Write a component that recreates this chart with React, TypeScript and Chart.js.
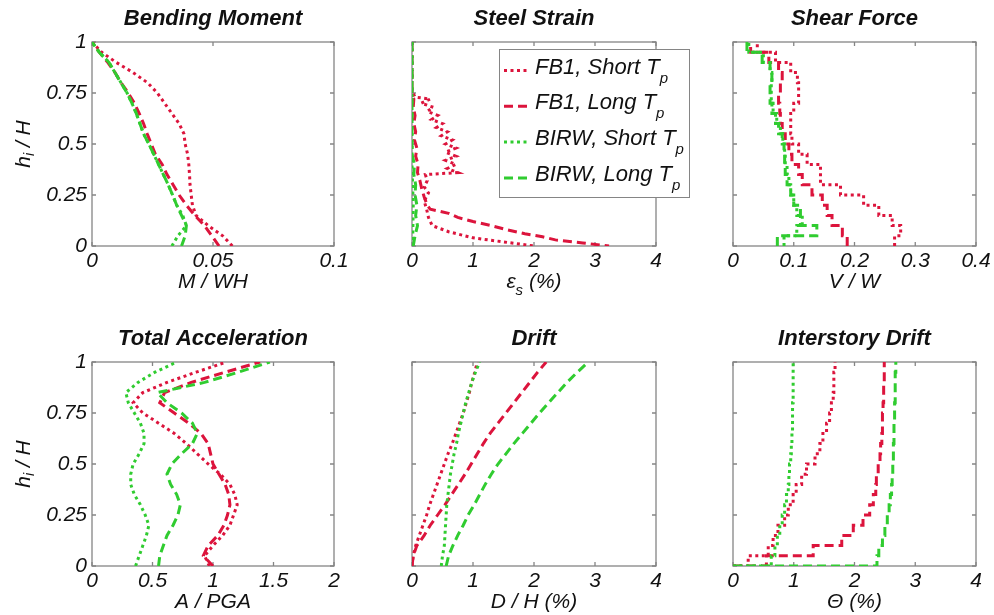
import React, { useEffect, useRef } from 'react';
import { Chart, registerables } from 'chart.js';

Chart.register(...registerables);

const FONT = "'Liberation Sans', Arial, sans-serif";
const RED = '#dc143c';
const GREEN = '#30cc30';
const FRAME = '#858585';
const INK = '#111111';

// Normalised heights h_i / H of the profile stations (ground to roof)
const HEIGHTS = [0, 0.05, 0.1, 0.15, 0.2, 0.25, 0.3, 0.35, 0.4, 0.45, 0.5, 0.55, 0.6, 0.65, 0.7, 0.75, 0.8, 0.85, 0.9, 0.95, 1.0];
// Top of each of the 20 storeys (storey 1 first)
const STOREY_TOPS = [0.05, 0.1, 0.15, 0.2, 0.25, 0.3, 0.35, 0.4, 0.45, 0.5, 0.55, 0.6, 0.65, 0.7, 0.75, 0.8, 0.85, 0.9, 0.95, 1.0];

// Bending moment M / WH at HEIGHTS
const MOMENT_FB1_SHORT = [0.058, 0.054, 0.048, 0.043, 0.0415, 0.041, 0.0405, 0.0403, 0.04, 0.0395, 0.0385, 0.038, 0.036, 0.033, 0.03, 0.027, 0.023, 0.017, 0.01, 0.004, 0];
const MOMENT_FB1_LONG = [0.0525, 0.0495, 0.0465, 0.0425, 0.039, 0.036, 0.0335, 0.031, 0.029, 0.0262, 0.0245, 0.0228, 0.0213, 0.0195, 0.0175, 0.015, 0.012, 0.0095, 0.0065, 0.003, 0];
const MOMENT_BIRW_SHORT = [0.033, 0.0355, 0.039, 0.0375, 0.035, 0.0333, 0.0315, 0.0295, 0.0275, 0.0255, 0.0235, 0.0213, 0.0198, 0.0183, 0.0165, 0.0145, 0.012, 0.0095, 0.007, 0.003, 0];
const MOMENT_BIRW_LONG = [0.037, 0.0385, 0.039, 0.037, 0.035, 0.0333, 0.0315, 0.0295, 0.0275, 0.0255, 0.0235, 0.0213, 0.0198, 0.0183, 0.0165, 0.0145, 0.012, 0.0095, 0.007, 0.003, 0];

// Steel strain (%) profiles, listed roof to ground
const STRAIN_FB1_SHORT_H = [1.0, 0.76, 0.73, 0.72, 0.7, 0.68, 0.66, 0.64, 0.62, 0.6, 0.58, 0.56, 0.54, 0.52, 0.5, 0.48, 0.46, 0.44, 0.42, 0.4, 0.38, 0.36, 0.35, 0.32, 0.29, 0.26, 0.22, 0.18, 0.14, 0.1, 0.07, 0.04, 0.02, 0.0];
const STRAIN_FB1_SHORT = [0, 0, 0.05, 0.3, 0.15, 0.35, 0.25, 0.42, 0.32, 0.5, 0.4, 0.58, 0.48, 0.66, 0.55, 0.72, 0.55, 0.72, 0.55, 0.72, 0.58, 0.75, 0.22, 0.25, 0.2, 0.27, 0.2, 0.24, 0.27, 0.33, 0.6, 1.0, 1.5, 2.0];
const STRAIN_FB1_LONG_H = [1.0, 0.76, 0.72, 0.68, 0.64, 0.6, 0.56, 0.52, 0.48, 0.44, 0.4, 0.36, 0.32, 0.28, 0.24, 0.2, 0.18, 0.16, 0.14, 0.12, 0.1, 0.08, 0.06, 0.045, 0.03, 0.015, 0.0];
const STRAIN_FB1_LONG = [0, 0, 0.03, 0.02, 0.05, 0.03, 0.06, 0.04, 0.08, 0.06, 0.1, 0.09, 0.13, 0.16, 0.2, 0.25, 0.3, 0.6, 0.75, 1.0, 1.3, 1.55, 1.85, 2.14, 2.35, 2.8, 3.23];
const STRAIN_BIRW_SHORT_H = [1.0, 0.4, 0.3, 0.2, 0.1, 0.0];
const STRAIN_BIRW_SHORT = [0, 0, 0.01, 0.02, 0.015, 0.01];
const STRAIN_BIRW_LONG_H = [1.0, 0.45, 0.4, 0.35, 0.3, 0.25, 0.2, 0.15, 0.1, 0.05, 0.0];
const STRAIN_BIRW_LONG = [0, 0, 0.04, 0.03, 0.06, 0.05, 0.08, 0.06, 0.09, 0.05, 0.02];

// Storey shear V / W, storey 1 first
const SHEAR_FB1_SHORT = [0.266, 0.276, 0.262, 0.24, 0.215, 0.177, 0.144, 0.144, 0.122, 0.108, 0.097, 0.095, 0.095, 0.1, 0.108, 0.108, 0.106, 0.095, 0.07, 0.04];
const SHEAR_FB1_LONG = [0.188, 0.18, 0.163, 0.155, 0.147, 0.13, 0.114, 0.108, 0.097, 0.092, 0.086, 0.081, 0.078, 0.077, 0.075, 0.078, 0.081, 0.075, 0.059, 0.029];
const SHEAR_BIRW_SHORT = [0.084, 0.105, 0.114, 0.105, 0.1, 0.095, 0.092, 0.089, 0.086, 0.085, 0.082, 0.078, 0.072, 0.066, 0.063, 0.063, 0.064, 0.061, 0.05, 0.026];
const SHEAR_BIRW_LONG = [0.073, 0.138, 0.111, 0.111, 0.1, 0.095, 0.089, 0.086, 0.085, 0.084, 0.081, 0.075, 0.07, 0.064, 0.061, 0.061, 0.064, 0.061, 0.048, 0.023];

// Total acceleration A / PGA at HEIGHTS
const ACCEL_FB1_SHORT = [0.97, 0.93, 1.0, 1.08, 1.14, 1.17, 1.2, 1.18, 1.14, 1.06, 0.96, 0.87, 0.78, 0.68, 0.55, 0.42, 0.34, 0.42, 0.62, 0.86, 1.11];
const ACCEL_FB1_LONG = [1.0, 0.92, 0.96, 1.04, 1.09, 1.12, 1.14, 1.13, 1.1, 1.05, 1.0, 0.98, 0.96, 0.9, 0.8, 0.68, 0.56, 0.6, 0.82, 1.1, 1.39];
const ACCEL_BIRW_SHORT = [0.36, 0.39, 0.42, 0.45, 0.47, 0.44, 0.4, 0.35, 0.32, 0.32, 0.34, 0.39, 0.43, 0.43, 0.4, 0.35, 0.3, 0.28, 0.38, 0.52, 0.7];
const ACCEL_BIRW_LONG = [0.55, 0.56, 0.59, 0.62, 0.67, 0.71, 0.73, 0.7, 0.65, 0.62, 0.66, 0.74, 0.83, 0.87, 0.83, 0.74, 0.62, 0.54, 0.93, 1.21, 1.47];

// Roof-normalised drift D / H (%) at HEIGHTS
const DRIFT_FB1_SHORT = [0, 0.02, 0.06, 0.12, 0.18, 0.24, 0.29, 0.35, 0.41, 0.47, 0.53, 0.59, 0.66, 0.72, 0.78, 0.84, 0.89, 0.94, 0.98, 1.03, 1.07];
const DRIFT_FB1_LONG = [0, 0.02, 0.08, 0.2, 0.3, 0.42, 0.54, 0.65, 0.76, 0.87, 0.97, 1.07, 1.17, 1.28, 1.41, 1.54, 1.67, 1.8, 1.93, 2.06, 2.2];
const DRIFT_BIRW_SHORT = [0.48, 0.5, 0.53, 0.54, 0.55, 0.56, 0.57, 0.59, 0.61, 0.63, 0.66, 0.69, 0.73, 0.76, 0.8, 0.84, 0.88, 0.93, 0.98, 1.04, 1.11];
const DRIFT_BIRW_LONG = [0.56, 0.6, 0.67, 0.75, 0.84, 0.92, 1.02, 1.11, 1.2, 1.3, 1.41, 1.54, 1.67, 1.81, 1.95, 2.09, 2.24, 2.39, 2.54, 2.71, 2.89];

// Interstory drift ratio (%), storey 1 first
const IDR_FB1_SHORT = [0.25, 0.58, 0.66, 0.74, 0.85, 0.91, 0.99, 1.04, 1.13, 1.21, 1.35, 1.43, 1.48, 1.54, 1.59, 1.62, 1.65, 1.66, 1.66, 1.68];
const IDR_FB1_LONG = [0.55, 1.32, 1.79, 1.98, 2.14, 2.25, 2.31, 2.35, 2.36, 2.39, 2.42, 2.43, 2.45, 2.46, 2.46, 2.47, 2.48, 2.48, 2.49, 2.49];
const IDR_BIRW_SHORT = [0.63, 0.69, 0.73, 0.77, 0.81, 0.85, 0.88, 0.91, 0.92, 0.93, 0.95, 0.96, 0.97, 0.98, 0.98, 0.98, 0.99, 0.99, 0.99, 0.99];
const IDR_BIRW_LONG = [2.37, 2.4, 2.46, 2.5, 2.54, 2.57, 2.59, 2.61, 2.62, 2.63, 2.64, 2.64, 2.65, 2.65, 2.66, 2.66, 2.67, 2.67, 2.67, 2.68];

const LEGEND_LABELS = ['FB1, Short T', 'FB1, Long T', 'BIRW, Short T', 'BIRW, Long T'];
const LEGEND_SUB = 'p';

type Pt = { x: number; y: number };
type Seg = { t: string; sub?: boolean };

const DOT = [3, 3.5];
const DASH = [9, 5];
const SERIES = [
  { color: RED, dash: DOT, order: 3 },
  { color: RED, dash: DASH, order: 2 },
  { color: GREEN, dash: DOT, order: 1 },
  { color: GREEN, dash: DASH, order: 0 },
];

const pair = (xs: number[], ys: number[]): Pt[] => xs.map((x, i) => ({ x, y: ys[i] }));
const stairs = (vals: number[], fromGround: boolean): Pt[] => [
  { x: fromGround ? 0 : vals[0], y: 0 },
  ...vals.map((x, i) => ({ x, y: STOREY_TOPS[i] })),
];

function makeSets(pts: Pt[][], stepped = false) {
  return SERIES.map((s, i) => ({
    label: LEGEND_LABELS[i],
    data: pts[i],
    borderColor: s.color,
    backgroundColor: s.color,
    borderDash: s.dash,
    borderWidth: 3,
    borderCapStyle: 'butt',
    borderJoinStyle: 'miter',
    showLine: true,
    pointRadius: 0,
    pointHoverRadius: 0,
    fill: false,
    tension: 0,
    order: s.order,
    stepped: stepped ? 'before' : false,
  }));
}

function setFont(ctx: CanvasRenderingContext2D, size: number, bold = false) {
  ctx.font = `italic ${bold ? 'bold ' : ''}${size}px ${FONT}`;
}

function richWidth(ctx: CanvasRenderingContext2D, segs: Seg[], size: number, sub: number, bold: boolean) {
  let w = 0;
  for (const s of segs) {
    setFont(ctx, s.sub ? sub : size, bold);
    w += ctx.measureText(s.t).width;
  }
  return w;
}

// Draws a run of text with optional subscripts; x is the centre, y the baseline
function drawRich(ctx: CanvasRenderingContext2D, segs: Seg[], x: number, y: number, size: number, opts: { bold?: boolean; sub?: number; subDy?: number; left?: boolean } = {}) {
  const sub = opts.sub ?? 15;
  const subDy = opts.subDy ?? 6;
  const bold = !!opts.bold;
  let cx = opts.left ? x : x - richWidth(ctx, segs, size, sub, bold) / 2;
  ctx.textAlign = 'left';
  ctx.textBaseline = 'alphabetic';
  ctx.fillStyle = INK;
  for (const s of segs) {
    setFont(ctx, s.sub ? sub : size, bold);
    ctx.fillText(s.t, cx, s.sub ? y + subDy : y);
    cx += ctx.measureText(s.t).width;
  }
}

type PanelSpec = {
  title: string;
  left: number; top: number; w: number; h: number;
  padL: number; padT: number; padR: number; padB: number;
  xMax: number; xStep: number;
  yTicks: boolean;
  xLabel: Seg[];
  yLabel?: Seg[];
  sets: any[];
  legend?: boolean;
};

const Y_LABEL: Seg[] = [{ t: 'h' }, { t: 'i', sub: true }, { t: ' / H' }];

const PANELS: PanelSpec[] = [
  {
    title: 'Bending Moment', left: 92, top: 42, w: 242, h: 204, padL: 90, padT: 42, padR: 30, padB: 60,
    xMax: 0.1, xStep: 0.05, yTicks: true, xLabel: [{ t: 'M / WH' }], yLabel: Y_LABEL,
    sets: makeSets([
      pair(MOMENT_FB1_SHORT, HEIGHTS), pair(MOMENT_FB1_LONG, HEIGHTS),
      pair(MOMENT_BIRW_SHORT, HEIGHTS), pair(MOMENT_BIRW_LONG, HEIGHTS),
    ]),
  },
  {
    title: 'Steel Strain', left: 412, top: 42, w: 244, h: 204, padL: 60, padT: 42, padR: 40, padB: 60,
    xMax: 4, xStep: 1, yTicks: false, xLabel: [{ t: 'ε' }, { t: 's', sub: true }, { t: ' (%)' }], legend: true,
    sets: makeSets([
      pair(STRAIN_FB1_SHORT, STRAIN_FB1_SHORT_H), pair(STRAIN_FB1_LONG, STRAIN_FB1_LONG_H),
      pair(STRAIN_BIRW_SHORT, STRAIN_BIRW_SHORT_H), pair(STRAIN_BIRW_LONG, STRAIN_BIRW_LONG_H),
    ]),
  },
  {
    title: 'Shear Force', left: 733, top: 42, w: 243, h: 204, padL: 60, padT: 42, padR: 18, padB: 60,
    xMax: 0.4, xStep: 0.1, yTicks: false, xLabel: [{ t: 'V / W' }],
    sets: makeSets([
      stairs(SHEAR_FB1_SHORT, false), stairs(SHEAR_FB1_LONG, false),
      stairs(SHEAR_BIRW_SHORT, false), stairs(SHEAR_BIRW_LONG, false),
    ], true),
  },
  {
    title: 'Total Acceleration', left: 92, top: 362, w: 242, h: 204, padL: 90, padT: 52, padR: 30, padB: 48,
    xMax: 2, xStep: 0.5, yTicks: true, xLabel: [{ t: 'A / PGA' }], yLabel: Y_LABEL,
    sets: makeSets([
      pair(ACCEL_FB1_SHORT, HEIGHTS), pair(ACCEL_FB1_LONG, HEIGHTS),
      pair(ACCEL_BIRW_SHORT, HEIGHTS), pair(ACCEL_BIRW_LONG, HEIGHTS),
    ]),
  },
  {
    title: 'Drift', left: 412, top: 362, w: 244, h: 204, padL: 60, padT: 52, padR: 40, padB: 48,
    xMax: 4, xStep: 1, yTicks: false, xLabel: [{ t: 'D / H (%)' }],
    sets: makeSets([
      pair(DRIFT_FB1_SHORT, HEIGHTS), pair(DRIFT_FB1_LONG, HEIGHTS),
      pair(DRIFT_BIRW_SHORT, HEIGHTS), pair(DRIFT_BIRW_LONG, HEIGHTS),
    ]),
  },
  {
    title: 'Interstory Drift', left: 733, top: 362, w: 243, h: 204, padL: 60, padT: 52, padR: 18, padB: 48,
    xMax: 4, xStep: 1, yTicks: false, xLabel: [{ t: 'Θ (%)' }],
    sets: makeSets([
      stairs(IDR_FB1_SHORT, true), stairs(IDR_FB1_LONG, true),
      stairs(IDR_BIRW_SHORT, true), stairs(IDR_BIRW_LONG, true),
    ], true),
  },
];

const fmt = (v: number | string) => String(Math.round(Number(v) * 1000) / 1000);

function decorPlugin(spec: PanelSpec) {
  return {
    id: 'panelDecor',
    beforeDatasetsDraw(chart: any) {
      const { ctx, chartArea: a, scales } = chart;
      ctx.save();
      ctx.strokeStyle = FRAME;
      ctx.lineWidth = 1.3;
      ctx.strokeRect(a.left, a.top, a.right - a.left, a.bottom - a.top);
      ctx.beginPath();
      for (const t of scales.x.ticks) {
        const p = scales.x.getPixelForValue(t.value);
        ctx.moveTo(p, a.bottom); ctx.lineTo(p, a.bottom - 4);
        ctx.moveTo(p, a.top); ctx.lineTo(p, a.top + 4);
      }
      for (const t of scales.y.ticks) {
        const p = scales.y.getPixelForValue(t.value);
        ctx.moveTo(a.left, p); ctx.lineTo(a.left + 4, p);
        ctx.moveTo(a.right, p); ctx.lineTo(a.right - 4, p);
      }
      ctx.stroke();
      ctx.restore();
    },
    afterDraw(chart: any) {
      const { ctx, chartArea: a } = chart;
      const cx = (a.left + a.right) / 2;
      ctx.save();
      drawRich(ctx, [{ t: spec.title }], cx, a.top - 17, 22, { bold: true });
      drawRich(ctx, spec.xLabel, cx, a.bottom + 42, 21, { sub: 15, subDy: 7 });
      if (spec.yLabel) {
        ctx.save();
        ctx.translate(a.left - 62, (a.top + a.bottom) / 2);
        ctx.rotate(-Math.PI / 2);
        drawRich(ctx, spec.yLabel, 0, 0, 21, { sub: 14, subDy: 4 });
        ctx.restore();
      }
      if (spec.legend) {
        const bx = a.left + 87;
        const by = a.top + 7;
        const bw = 190;
        const bh = 148;
        ctx.fillStyle = '#ffffff';
        ctx.fillRect(bx, by, bw, bh);
        ctx.strokeStyle = FRAME;
        ctx.lineWidth = 1;
        ctx.strokeRect(bx + 0.5, by + 0.5, bw, bh);
        chart.data.datasets.forEach((ds: any, i: number) => {
          const base = by + 24.5 + i * 35.8;
          ctx.save();
          ctx.strokeStyle = ds.borderColor;
          ctx.lineWidth = 3;
          ctx.setLineDash(ds.borderDash);
          ctx.beginPath();
          ctx.moveTo(bx + 5, base - 3);
          ctx.lineTo(bx + 29, base - 3);
          ctx.stroke();
          ctx.restore();
          drawRich(ctx, [{ t: ds.label }, { t: LEGEND_SUB, sub: true }], bx + 36, base, 22, { left: true, sub: 15, subDy: 9 });
        });
      }
      ctx.restore();
    },
  };
}

function Panel({ spec }: { spec: PanelSpec }) {
  const ref = useRef<HTMLCanvasElement>(null);
  const cw = spec.w + spec.padL + spec.padR;
  const chh = spec.h + spec.padT + spec.padB;

  useEffect(() => {
    const tickFont = { family: FONT, size: 21, style: 'italic' as const };
    const chart = new Chart(ref.current as HTMLCanvasElement, {
      type: 'scatter',
      data: { datasets: spec.sets as any },
      options: {
        responsive: false,
        animation: false,
        devicePixelRatio: 1,
        events: [],
        layout: { padding: { top: spec.padT, right: spec.padR, left: 0, bottom: 0 } },
        plugins: { legend: { display: false }, tooltip: { enabled: false }, title: { display: false } },
        scales: {
          x: {
            type: 'linear', position: 'bottom', min: 0, max: spec.xMax,
            border: { display: false },
            grid: { display: false, drawTicks: false },
            ticks: { stepSize: spec.xStep, font: tickFont, color: INK, padding: 3, maxRotation: 0, autoSkip: false, callback: fmt },
            afterFit: (s: any) => { s.height = spec.padB; },
          },
          y: {
            type: 'linear', position: 'left', min: 0, max: 1,
            border: { display: false },
            grid: { display: false, drawTicks: false },
            ticks: { stepSize: 0.25, display: spec.yTicks, font: tickFont, color: INK, padding: 5, autoSkip: false, callback: fmt },
            afterFit: (s: any) => { s.width = spec.padL; },
          },
        },
      } as any,
      plugins: [decorPlugin(spec)],
    });
    return () => chart.destroy();
  }, []);

  return (
    <canvas
      ref={ref}
      width={cw}
      height={chh}
      style={{ position: 'absolute', left: spec.left - spec.padL, top: spec.top - spec.padT, width: cw, height: chh }}
    />
  );
}

export default function App() {
  return (
    <div style={{ position: 'fixed', left: 0, top: 0, width: 994, height: 615, overflow: 'hidden', background: '#ffffff' }}>
      {PANELS.map((p) => (
        <Panel key={p.title} spec={p} />
      ))}
    </div>
  );
}
